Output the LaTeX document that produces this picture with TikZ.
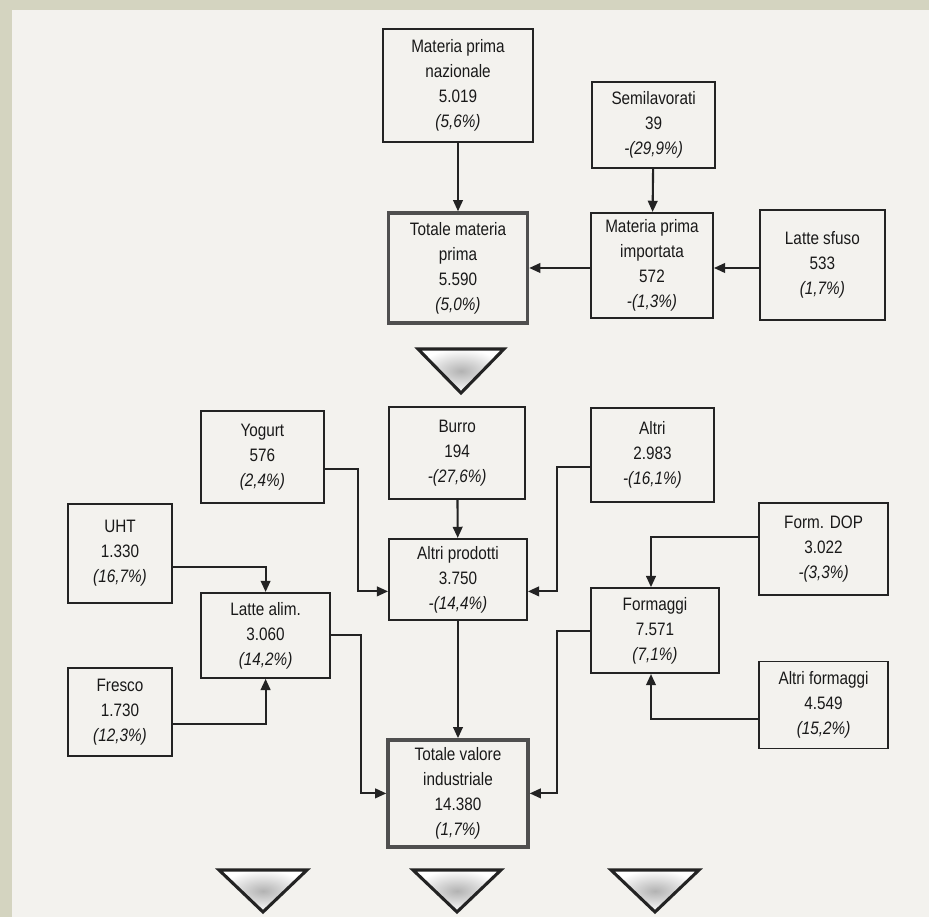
\documentclass[tikz,border=0pt]{standalone}
\usepackage{fontspec}
\setmainfont{Liberation Sans}[FakeStretch=0.85]
\definecolor{paper}{RGB}{243,242,238}
\definecolor{frameband}{RGB}{212,212,192}
\definecolor{ink}{RGB}{35,35,35}
\usetikzlibrary{arrows.meta}

\begin{document}
\begin{tikzpicture}[
  box/.style={draw=ink, line width=1.3pt, align=center, inner sep=0pt, text=black!90, font=\fontsize{12.8}{17.8}\selectfont},
  total/.style={box, line width=2.4pt, draw=ink!80},
  arr/.style={-{Triangle[length=2.8mm, width=2.4mm]}, line width=1.5pt, ink},
  tri/.style={draw=ink, line width=2.2pt, line join=miter, inner color=gray!60, outer color=white}
]
\useasboundingbox (0,0) rectangle (23.225,22.925);
\fill[paper] (0,0) rectangle (23.225,22.925);
\fill[frameband] (0,0) rectangle (0.3,22.925);
\fill[frameband] (0,22.675) rectangle (23.225,22.925);

% materia prima
\node[box, minimum width=3.75cm, minimum height=2.825cm]  (naz)   at (11.45, 20.79) {Materia prima\\nazionale\\5.019\\\textit{(5,6\%)}};
\node[box, minimum width=3.075cm, minimum height=2.15cm]  (semi)  at (16.34, 19.8)  {Semilavorati\\39\\\textit{-(29,9\%)}};
\node[total, minimum width=3.475cm, minimum height=2.75cm] (totmp) at (11.45, 16.225) {Totale materia\\prima\\5.590\\\textit{(5,0\%)}};
\node[box, minimum width=3.05cm, minimum height=2.625cm]  (imp)   at (16.3, 16.29)  {Materia prima\\importata\\572\\\textit{-(1,3\%)}};
\node[box, minimum width=3.125cm, minimum height=2.75cm]  (sfuso) at (20.56, 16.3)  {Latte sfuso\\533\\\textit{(1,7\%)}};

\draw[tri] (10.45,14.2) -- (12.6,14.2) -- (11.525,13.1) -- cycle;

% prodotti
\node[box, minimum width=3.075cm, minimum height=2.3cm]   (yogurt) at (6.56, 11.5)  {Yogurt\\576\\\textit{(2,4\%)}};
\node[box, minimum width=3.4cm, minimum height=2.3cm]     (burro)  at (11.43, 11.6) {Burro\\194\\\textit{-(27,6\%)}};
\node[box, minimum width=3.075cm, minimum height=2.35cm]  (altri)  at (16.31, 11.55) {Altri\\2.983\\\textit{-(16,1\%)}};
\node[box, minimum width=2.6cm, minimum height=2.475cm]   (uht)    at (3.0, 9.09)   {UHT\\1.330\\\textit{(16,7\%)}};
\node[box, minimum width=3.225cm, minimum height=2.3cm]   (dop)    at (20.59, 9.2)  {Form. DOP\\3.022\\\textit{-(3,3\%)}};
\node[box, minimum width=3.45cm, minimum height=2.025cm]  (ap)     at (11.45, 8.44) {Altri prodotti\\3.750\\\textit{-(14,4\%)}};
\node[box, minimum width=3.225cm, minimum height=2.125cm] (latte)  at (6.64, 7.04)  {Latte alim.\\3.060\\\textit{(14,2\%)}};
\node[box, minimum width=3.2cm, minimum height=2.125cm]   (form)   at (16.375, 7.16) {Formaggi\\7.571\\\textit{(7,1\%)}};
\node[box, minimum width=2.6cm, minimum height=2.2cm]     (fresco) at (3.0, 5.125)  {Fresco\\1.730\\\textit{(12,3\%)}};
\node[box, minimum width=3.225cm, minimum height=2.175cm] (altrif) at (20.59, 5.3)  {Altri formaggi\\4.549\\\textit{(15,2\%)}};
\node[total, minimum width=3.5cm, minimum height=2.675cm] (tv)     at (11.45, 3.09) {Totale valore\\industriale\\14.380\\\textit{(1,7\%)}};

\draw[arr] (naz) -- (totmp);
\draw[arr] (semi) -- (imp);
\draw[arr] (imp.west |- totmp) -- (totmp);
\draw[arr] (sfuso.west |- totmp) -- (imp.east |- totmp);

\draw[arr] (burro) -- (ap);
\draw[arr] ([yshift=-0.3cm]yogurt.east) -- ++(0.825,0) |- ([yshift=-0.3cm]ap.west);
\draw[arr] ([yshift=-0.3cm]altri.west) -- ++(-0.825,0) |- ([yshift=-0.3cm]ap.east);
\draw[arr] ([yshift=-0.35cm]uht.east) -| (latte.north);
\draw[arr] ([yshift=-0.3cm]fresco.east) -| (latte.south);
\draw[arr] ([yshift=0.3cm]dop.west) -| ([xshift=-1mm]form.north);
\draw[arr] ([yshift=-0.35cm]altrif.west) -| ([xshift=-1mm]form.south);
\draw[arr] (ap) -- (tv);
\draw[arr] (latte.east) -- ++(0.75,0) |- (tv.west);
\draw[arr] (form.west) -- ++(-0.825,0) |- (tv.east);

\foreach \tx in {6.575, 11.425, 16.375}
  \draw[tri] ({\tx-1.1},1.175) -- ({\tx+1.1},1.175) -- (\tx,0.125) -- cycle;

\end{tikzpicture}
\end{document}
